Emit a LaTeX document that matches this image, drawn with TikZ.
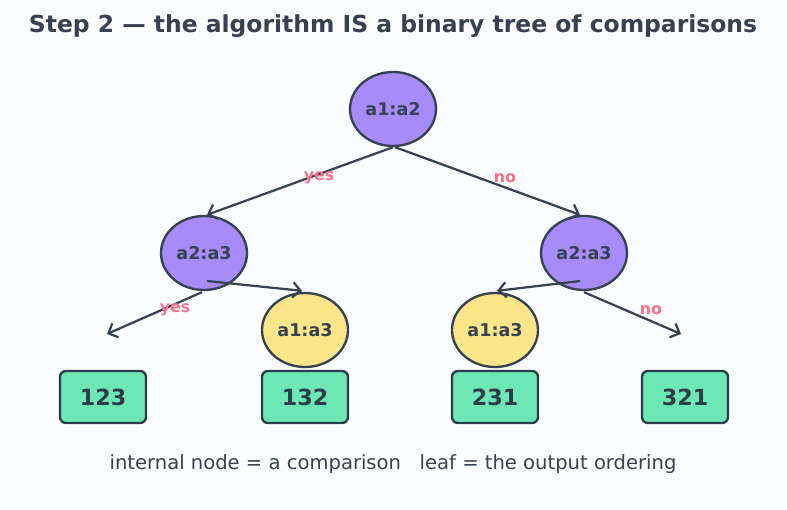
\documentclass[tikz,border=0pt]{standalone}
\usepackage{fontspec}
\setmainfont{DejaVu Sans}
\usetikzlibrary{shapes.geometric,arrows.meta,calc}
\definecolor{inkc}{HTML}{374151}
\definecolor{leafink}{HTML}{2B3E48}
\definecolor{cmpc}{HTML}{A78BFA}
\definecolor{subc}{HTML}{FDE68A}
\definecolor{leafc}{HTML}{6EE7B7}
\definecolor{ansc}{HTML}{F4728A}
\definecolor{bgc}{HTML}{FBFCFE}

\begin{document}
\begin{tikzpicture}[x=0.03cm,y=-0.03cm,
  cmp/.style={ellipse,draw=inkc,line width=2pt,fill=cmpc,minimum width=2.58cm,
    minimum height=2.22cm,inner sep=0pt,text=inkc,font=\fontsize{15}{17}\selectfont\bfseries},
  sub/.style={cmp,fill=subc},
  leaf/.style={rectangle,rounded corners=5pt,draw=leafink,line width=2pt,fill=leafc,
    minimum width=2.58cm,minimum height=1.56cm,inner sep=0pt,text=leafink,
    font=\fontsize{19}{22}\selectfont\bfseries},
  edge/.style={line width=1.9pt,draw=inkc,-{Straight Barb[length=6.5pt,width=13pt,line width=1.9pt]}},
  ans/.style={text=ansc,font=\fontsize{13.5}{15}\selectfont\bfseries}]
  % Canvas
  \fill[bgc] (0,0) rectangle (787,510);
  \node[text=inkc,font=\fontsize{20}{23}\selectfont\bfseries] (title) at (393,26)
    {Step 2 — the algorithm IS a binary tree of comparisons};

  % Comparisons
  \node[cmp] (root) at (393,109) {a1:a2};
  \node[cmp] (left) at (204,253) {a2:a3};
  \node[cmp] (right) at (584,253) {a2:a3};
  \node[sub] (subl) at (305,330) {a1:a3};
  \node[sub] (subr) at (495,330) {a1:a3};

  % Leaves
  \node[leaf] (p123) at (103,397) {123};
  \node[leaf] (p132) at (305,397) {132};
  \node[leaf] (p231) at (495,397) {231};
  \node[leaf] (p321) at (685,397) {321};

  % Free ends
  \coordinate (endl) at (107,334);
  \coordinate (endr) at (681,334);

  % Branches
  \draw[edge] (root.south) -- ($(left.north)+(3,0)$);
  \draw[edge] ($(root.south)+(2,0)$) -- ($(right.north)+(-4,0)$);
  \draw[edge] ($(left.south)+(-2,1)$) -- (endl);
  \draw[edge] ($(left.center)+(3,28)$) -- ($(subl.north)+(-3,-1)$);
  \draw[edge] ($(right.center)+(-4,28)$) -- ($(subr.north)+(2,-1)$);
  \draw[edge] ($(right.south)+(0,1)$) -- (endr);

  % Answers
  \node[ans] (ya) at (319,178) {yes};
  \node[ans] (na) at (505,178) {no};
  \node[ans] (yb) at (175,310) {yes};
  \node[ans] (nb) at (651,310) {no};

  % Legend
  \node[text=inkc,font=\fontsize{16.7}{19}\selectfont] (legend) at (393,464)
    {internal node = a comparison\ \ \ leaf = the output ordering};
\end{tikzpicture}
\end{document}
